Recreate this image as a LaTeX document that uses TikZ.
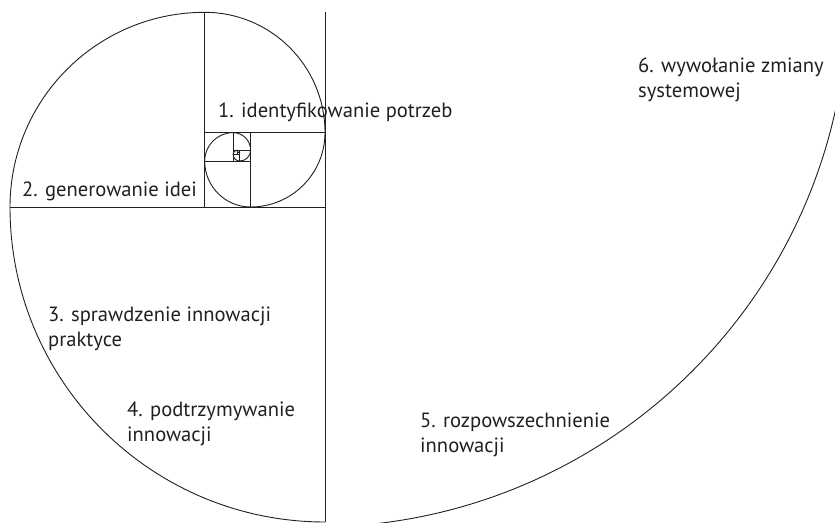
\documentclass[tikz,border=0pt]{standalone}
\usepackage{fontspec}
\setmainfont{PT Sans}
\definecolor{ink}{HTML}{231F20}
\begin{document}
\begin{tikzpicture}[x=1pt,y=1pt,
  grid/.style={draw=ink,line width=0.8pt},
  spiral/.style={draw=ink,line width=0.9pt},
  lbl/.style={anchor=base west,inner sep=0pt,align=left,text=ink,
    font=\fontsize{20.6}{25.5}\selectfont}]
\useasboundingbox (0,0) rectangle (835,522);
\begin{scope}
\clip (0,0) rectangle (835,522);
% main vertical line
\draw[grid,line width=1pt] (325,0) -- (325,509.68);
% Fibonacci square divisions
\draw[grid] (10,315) -- (325,315);
\draw[grid] (204.68,315) -- (204.68,509.68);
\draw[grid] (204.68,389.36) -- (325,389.36);
\draw[grid] (250.64,315) -- (250.64,389.36);
\draw[grid] (204.68,360.96) -- (250.64,360.96);
\draw[grid] (233.08,360.96) -- (233.08,389.36);
\draw[grid] (233.08,371.81) -- (250.64,371.81);
\draw[grid] (239.79,360.96) -- (239.79,371.81);
\draw[grid] (233.08,367.67) -- (239.79,367.67);
\draw[grid] (237.22,367.67) -- (237.22,371.81);
\draw[grid] (237.22,369.24) -- (239.79,369.24);
% golden spiral
\draw[spiral] (325,0)
  arc[start angle=270,end angle=180,radius=315]
  arc[start angle=180,end angle=90,radius=194.68]
  arc[start angle=90,end angle=0,radius=120.32]
  arc[start angle=0,end angle=-90,radius=74.36]
  arc[start angle=270,end angle=180,radius=45.96]
  arc[start angle=180,end angle=90,radius=28.40]
  arc[start angle=90,end angle=0,radius=17.55]
  arc[start angle=0,end angle=-90,radius=10.85]
  arc[start angle=270,end angle=180,radius=6.71]
  arc[start angle=180,end angle=90,radius=4.14]
  arc[start angle=90,end angle=0,radius=2.56];
% outer arc
\draw[spiral] (316,527) ++(-95:532) arc[start angle=-95,end angle=-5,radius=532];
\end{scope}
% labels
\node[lbl] (n1) at (218,404) {1. identyfikowanie potrzeb};
\node[lbl] (n2) at (22,325) {2. generowanie idei};
\node[lbl] (n3) at (48,175) {3. sprawdzenie innowacji\\praktyce};
\node[lbl] (n4) at (127,80) {4. podtrzymywanie\\innowacji};
\node[lbl] (n5) at (420,69) {5. rozpowszechnienie\\innowacji};
\node[lbl] (n6) at (638,424) {6. wywołanie zmiany\\systemowej};
\end{tikzpicture}
\end{document}
